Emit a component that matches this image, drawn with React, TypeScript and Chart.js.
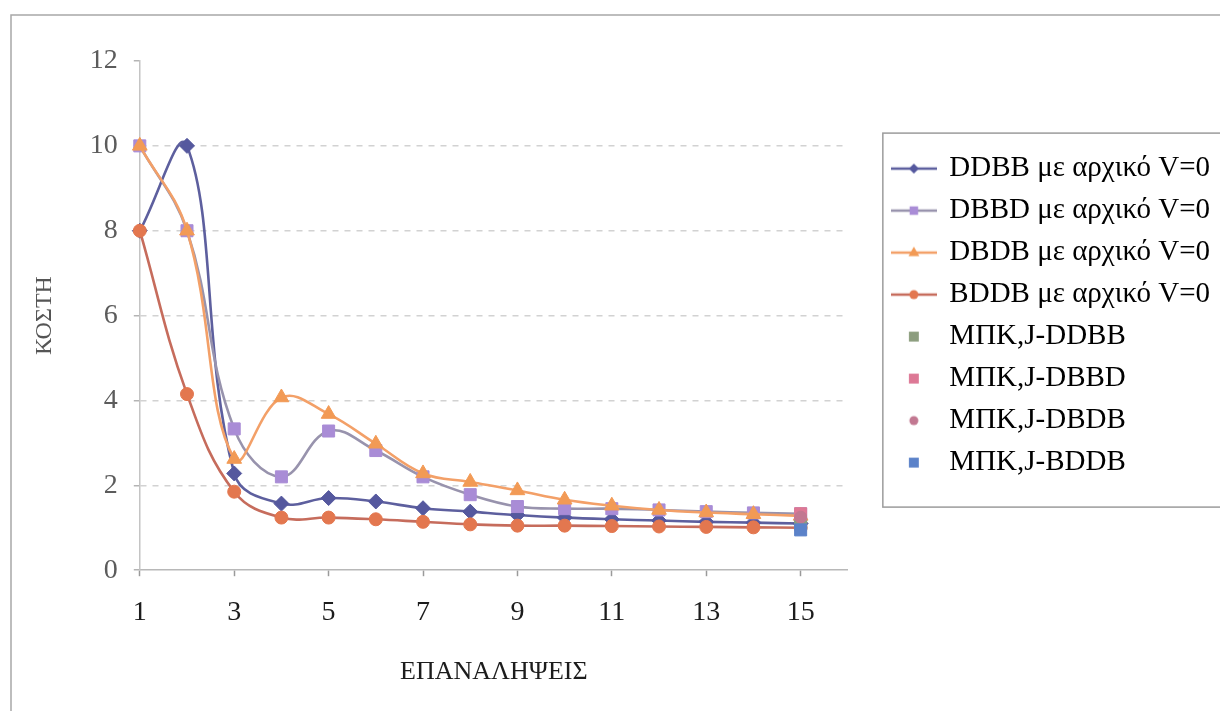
import { useEffect, useRef } from 'react';
import { Chart, registerables } from 'chart.js';

Chart.register(...registerables);

// Iterations on the x axis
const iterations = [1, 2, 3, 4, 5, 6, 7, 8, 9, 10, 11, 12, 13, 14, 15];

// Cost per iteration for each ordering, starting from V=0
const ddbb = [8, 10, 2.28, 1.57, 1.7, 1.62, 1.46, 1.38, 1.3, 1.24, 1.2, 1.17, 1.14, 1.12, 1.1];
const dbbd = [10, 8, 3.33, 2.2, 3.28, 2.82, 2.2, 1.78, 1.5, 1.45, 1.45, 1.42, 1.38, 1.35, 1.33];
const dbdb = [10, 8, 2.62, 4.07, 3.68, 2.98, 2.28, 2.08, 1.88, 1.66, 1.52, 1.42, 1.36, 1.32, 1.28];
const bddb = [8, 4.15, 1.85, 1.24, 1.24, 1.2, 1.14, 1.08, 1.05, 1.05, 1.04, 1.03, 1.02, 1.01, 1.0];

// Single reference points (ΜΠΚ,J) for each ordering
const mpkX = [15];
const mpkDdbb = [1.1];
const mpkDbbd = [1.33];
const mpkDbdb = [1.25];
const mpkBddb = [0.95];

const xTickValues = [1, 3, 5, 7, 9, 11, 13, 15];
const yTickStep = 2;
const yMin = 0;
const yMax = 12;

const FONT = '"Liberation Serif", "Times New Roman", serif';
const CANVAS_W = 1220;
const CANVAS_H = 711;

type Marker = 'rectRot' | 'rect' | 'triangle' | 'circle';

function paintMarker(g: CanvasRenderingContext2D, style: Marker, x: number, y: number, r: number) {
  g.beginPath();
  if (style === 'rectRot') {
    g.moveTo(x, y - r);
    g.lineTo(x + r, y);
    g.lineTo(x, y + r);
    g.lineTo(x - r, y);
    g.closePath();
  } else if (style === 'rect') {
    const s = r * Math.SQRT1_2;
    g.rect(x - s, y - s, 2 * s, 2 * s);
  } else if (style === 'triangle') {
    g.moveTo(x, y - r);
    g.lineTo(x + r * 0.9, y + r * 0.6);
    g.lineTo(x - r * 0.9, y + r * 0.6);
    g.closePath();
  } else {
    g.arc(x, y, r, 0, Math.PI * 2);
  }
  g.fill();
}

function legendSample(lineColor: string | null, style: Marker, fill: string, r: number) {
  const c = document.createElement('canvas');
  c.width = 46;
  c.height = 22;
  const g = c.getContext('2d')!;
  if (lineColor) {
    g.strokeStyle = lineColor;
    g.lineWidth = 2.5;
    g.beginPath();
    g.moveTo(0, 11);
    g.lineTo(46, 11);
    g.stroke();
  }
  g.fillStyle = fill;
  paintMarker(g, style, 23, 11, r);
  return c;
}

const toPoints = (xs: number[], ys: number[]) => xs.map((x, i) => ({ x, y: ys[i] }));

interface SeriesDef {
  label: string;
  xs: number[];
  ys: number[];
  line: string | null;
  marker: string;
  style: Marker;
  radius: number;
  legendRadius: number;
  order: number;
}

const seriesDefs: SeriesDef[] = [
  { label: 'DDBB με αρχικό V=0', xs: iterations, ys: ddbb, line: '#5d5f9e', marker: '#55589e', style: 'rectRot', radius: 7.5, legendRadius: 5, order: 8 },
  { label: 'DBBD με αρχικό V=0', xs: iterations, ys: dbbd, line: '#9893ad', marker: '#a98cd6', style: 'rect', radius: 8.5, legendRadius: 6, order: 7 },
  { label: 'DBDB με αρχικό V=0', xs: iterations, ys: dbdb, line: '#f3a068', marker: '#f29a55', style: 'triangle', radius: 8.5, legendRadius: 6, order: 6 },
  { label: 'BDDB με αρχικό V=0', xs: iterations, ys: bddb, line: '#c66c5c', marker: '#e3774f', style: 'circle', radius: 6.5, legendRadius: 4.5, order: 5 },
  { label: 'ΜΠΚ,J-DDBB', xs: mpkX, ys: mpkDdbb, line: null, marker: '#8c9d7e', style: 'rect', radius: 8.5, legendRadius: 7, order: 4 },
  { label: 'ΜΠΚ,J-DBBD', xs: mpkX, ys: mpkDbbd, line: null, marker: '#dd7895', style: 'rect', radius: 8.5, legendRadius: 7, order: 3 },
  { label: 'ΜΠΚ,J-DBDB', xs: mpkX, ys: mpkDbdb, line: null, marker: '#c27891', style: 'circle', radius: 6, legendRadius: 4.5, order: 2 },
  { label: 'ΜΠΚ,J-BDDB', xs: mpkX, ys: mpkBddb, line: null, marker: '#5b82c9', style: 'rect', radius: 8.5, legendRadius: 7, order: 1 },
];

const framePlugin = {
  id: 'frameAndLegendBox',
  afterDraw(chart: any) {
    const ctx: CanvasRenderingContext2D = chart.ctx;
    ctx.save();
    ctx.strokeStyle = '#a8a8a8';
    ctx.lineWidth = 1.5;
    ctx.beginPath();
    ctx.moveTo(11, CANVAS_H + 2);
    ctx.lineTo(11, 15);
    ctx.lineTo(CANVAS_W + 2, 15);
    ctx.stroke();

    const boxes = chart.legend?.legendHitBoxes;
    if (boxes && boxes.length) {
      const first = boxes[0];
      const last = boxes[boxes.length - 1];
      const left = first.left - 10;
      const top = first.top - 21;
      const bottom = last.top + last.height + 30;
      ctx.strokeStyle = '#9c9c9c';
      ctx.lineWidth = 1.5;
      ctx.strokeRect(left, top, CANVAS_W + 10 - left, bottom - top);
    }
    ctx.restore();
  },
};

export default function App() {
  const canvasRef = useRef<HTMLCanvasElement | null>(null);

  useEffect(() => {
    if (!canvasRef.current) return;

    const samples = seriesDefs.map((s) => legendSample(s.line, s.style, s.marker, s.legendRadius));

    const datasets: any[] = seriesDefs.map((s) => ({
      type: 'line',
      label: s.label,
      data: toPoints(s.xs, s.ys),
      borderColor: s.line ?? s.marker,
      backgroundColor: s.marker,
      pointBackgroundColor: s.marker,
      pointBorderColor: s.marker,
      pointBorderWidth: 1,
      pointStyle: s.style,
      pointRadius: s.radius,
      borderWidth: 2.6,
      tension: 0.4,
      showLine: s.line !== null,
      order: s.order,
      clip: false,
      xAxisID: 'x',
      yAxisID: 'y',
    }));

    const chart = new Chart(canvasRef.current, {
      type: 'line',
      data: { datasets },
      plugins: [framePlugin],
      options: {
        responsive: false,
        animation: false,
        devicePixelRatio: 1,
        layout: { padding: { left: 20, top: 61, right: 0, bottom: 23 } },
        plugins: {
          tooltip: { enabled: false },
          legend: {
            position: 'right',
            fullSize: false,
            align: 'center',
            maxWidth: 500,
            labels: {
              usePointStyle: true,
              pointStyleWidth: 42,
              padding: 13,
              color: '#111',
              font: { family: FONT, size: 29 },
              generateLabels: () =>
                seriesDefs.map((s, i) => ({
                  text: s.label,
                  pointStyle: samples[i] as any,
                  fillStyle: s.marker,
                  strokeStyle: s.marker,
                  lineWidth: 0,
                  hidden: false,
                  datasetIndex: i,
                })),
            },
          },
        },
        scales: {
          x: {
            type: 'linear',
            min: 1,
            max: 16,
            afterBuildTicks: (scale: any) => {
              scale.ticks = xTickValues.map((v) => ({ value: v }));
            },
            grid: { drawOnChartArea: false, drawTicks: true, tickLength: 6, tickColor: '#9a9a9a', tickWidth: 1.5 },
            border: { display: true, color: '#b8b8b8', width: 1.5 },
            ticks: {
              color: '#1c1c1c',
              font: { family: FONT, size: 28 },
              padding: 20,
              autoSkip: false,
              maxRotation: 0,
            },
            title: {
              display: true,
              text: 'ΕΠΑΝΑΛΗΨΕΙΣ',
              color: '#1c1c1c',
              font: { family: FONT, size: 26 },
              padding: { top: 7, bottom: 0 },
            },
          },
          y: {
            type: 'linear',
            min: yMin,
            max: yMax,
            ticks: {
              stepSize: yTickStep,
              color: '#5c5c5c',
              font: { family: FONT, size: 28 },
              padding: 16,
            },
            grid: {
              color: (c: any) =>
                c.tick && (c.tick.value === yMin || c.tick.value === yMax) ? 'rgba(0,0,0,0)' : '#d2d2d2',
              lineWidth: 1.5,
              drawTicks: true,
              tickLength: 6,
              tickColor: '#b4b4b4',
              tickWidth: 1.5,
            },
            border: { display: true, color: '#c4c4c4', width: 1.5, dash: [6, 6] },
            title: {
              display: true,
              text: 'ΚΟΣΤΗ',
              color: '#555',
              font: { family: FONT, size: 24 },
              padding: { top: 10, bottom: 15 },
            },
          },
          y2: {
            type: 'linear',
            position: 'right',
            min: yMin,
            max: yMax,
            display: true,
            grid: { display: false },
            border: { display: false },
            ticks: { display: false },
            afterFit: (scale: any) => {
              scale.width = 32;
            },
          },
        },
      } as any,
    });

    return () => chart.destroy();
  }, []);

  return (
    <div
      style={{
        position: 'fixed',
        left: 0,
        top: 0,
        width: '1221px',
        height: '711px',
        overflow: 'hidden',
        background: '#ffffff',
      }}
    >
      <canvas ref={canvasRef} width={CANVAS_W} height={CANVAS_H} style={{ display: 'block' }} />
    </div>
  );
}
